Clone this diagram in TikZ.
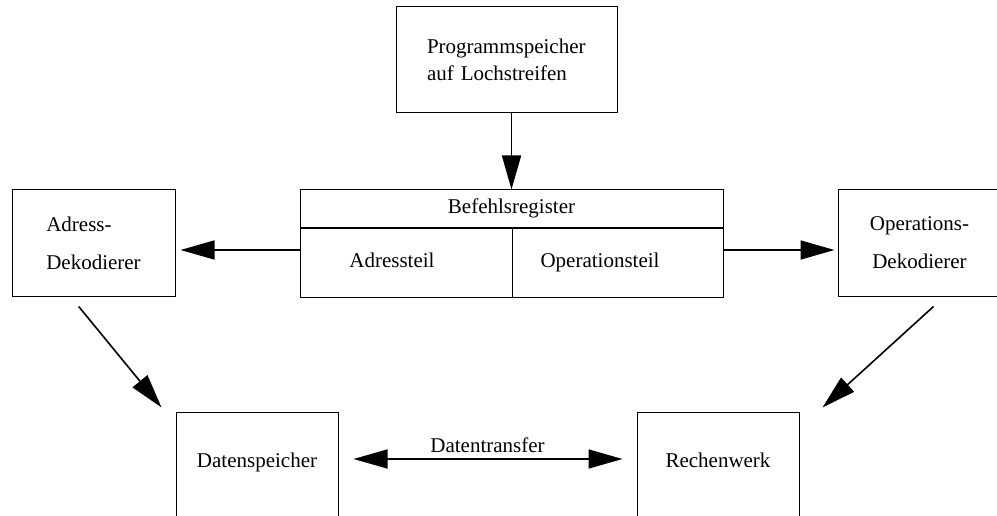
\documentclass[tikz,border=0pt]{standalone}
\usepackage{fontspec}
\setmainfont{Liberation Serif}
\usetikzlibrary{positioning,arrows.meta}

\begin{document}
\begin{tikzpicture}[x=1pt,y=-1pt,
    every node/.style={font=\fontsize{21}{27}\selectfont},
    kasten/.style={draw,line width=1pt,inner sep=0pt,minimum width=163pt,minimum height=106pt},
    feld/.style={draw,line width=1pt,inner sep=0pt,text height=14pt,text depth=5pt},
    pfeil/.style={line width=1.6pt,-{Triangle[length=34pt,width=19pt]}},
    pfeilzwei/.style={line width=1.6pt,{Triangle[length=34pt,width=19pt]}-{Triangle[length=34pt,width=19pt]}},
  ]
  \clip (0,0) rectangle (997,516);

  \node[kasten,minimum width=221pt,text width=159pt,align=left] (prog) at (506.5,60) {Programmspeicher\\auf Lochstreifen};

  % Befehlsregister mit zwei Teilen
  \node[feld,minimum width=423pt,minimum height=38pt] (befehl) at (511.5,209) {Befehlsregister};
  \node[feld,minimum width=212pt,minimum height=68pt,anchor=north west] (adrteil) at (befehl.south west) {Adressteil\hspace*{28pt}};
  \node[feld,minimum width=211pt,minimum height=68pt,anchor=north east] (opteil) at (befehl.south east) {Operationsteil\hspace*{35pt}};

  \node[kasten,align=left] (adr) at (93.5,243) {Adress-\\[11pt]Dekodierer};
  \node[kasten,align=center] (ops) at (919.5,243) {Operations-\\[11pt]Dekodierer};

  \node[kasten,minimum width=162pt,minimum height=110pt,text depth=14pt] (dat) at (257,467) {Datenspeicher};
  \node[kasten,minimum width=162pt,minimum height=110pt,text depth=14pt] (rech) at (718,467) {Rechenwerk};

  \draw[pfeil] (befehl.north |- prog.south) -- (befehl.north);
  \draw[pfeil,shorten >=5pt] ([yshift=13pt]adrteil.west) -- ([yshift=13pt]adrteil.west -| adr.east);
  \draw[pfeil,shorten >=3pt] ([yshift=13pt]opteil.east) -- ([yshift=13pt]opteil.east -| ops.west);
  \draw[pfeil,shorten <=12.9pt,shorten >=5.2pt] ([xshift=59pt]adr.south west) -- ([xshift=-10.7pt]dat.north west);
  \draw[pfeil,shorten <=14.85pt,shorten >=5.9pt] ([xshift=107pt]ops.south west) -- ([xshift=18.6pt]rech.north east);
  \draw[pfeilzwei,shorten <=15pt,shorten >=14pt] ([yshift=8pt]dat.east) -- ([yshift=8pt]rech.west)
    node[midway,above=2pt] (transfer) {Datentransfer};
\end{tikzpicture}
\end{document}
